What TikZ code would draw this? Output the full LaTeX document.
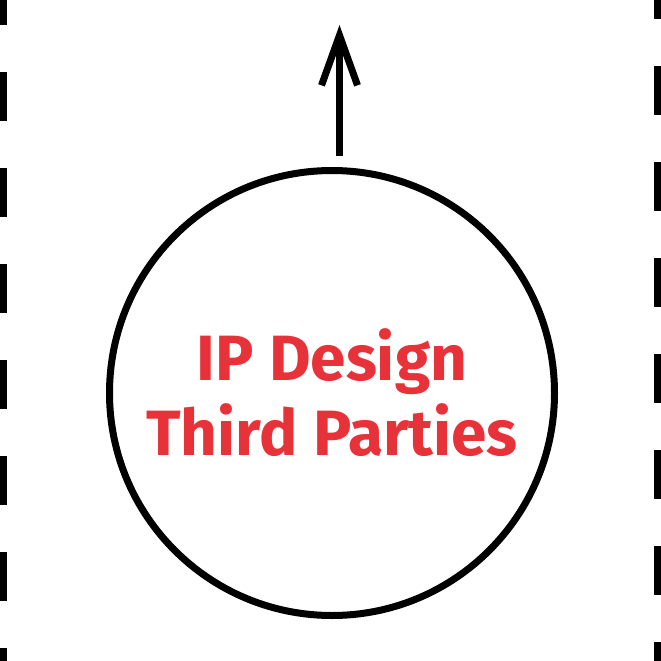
\documentclass[tikz,border=0pt]{standalone}
\usepackage{fontspec}
\setmainfont{Fira Sans}
\usetikzlibrary{arrows.meta,positioning}
\definecolor{ipd-red}{HTML}{E8323A}

\begin{document}
\begin{tikzpicture}[x=1pt, y=-1pt, line width=7pt,
    party/.style={draw, circle, minimum size=445pt, inner sep=0pt,
        text=ipd-red, align=center,
        font=\fontsize{64}{75}\selectfont\bfseries},
    border/.style={dash pattern=on 49pt off 47pt}]
    \useasboundingbox (0,0) rectangle (661,661);
    % side borders
    \coordinate (lt) at (3.5,0);
    \coordinate (lb) at (3.5,661);
    \coordinate (rt) at (657.5,0);
    \coordinate (rb) at (657.5,661);
    \draw[border, dash phase=24pt] (lt) -- (lb);
    \draw[border, dash phase=30pt] (rt) -- (rb);
    % the party
    \node[party] (ipd) at (332,393) {IP Design\\Third Parties};
    \coordinate (foot) at (339.5,156);
    \coordinate (head) at (339.5,25);
    \draw[-{Straight Barb[length=50pt,width=36pt]}] (foot) -- (head);
\end{tikzpicture}
\end{document}
